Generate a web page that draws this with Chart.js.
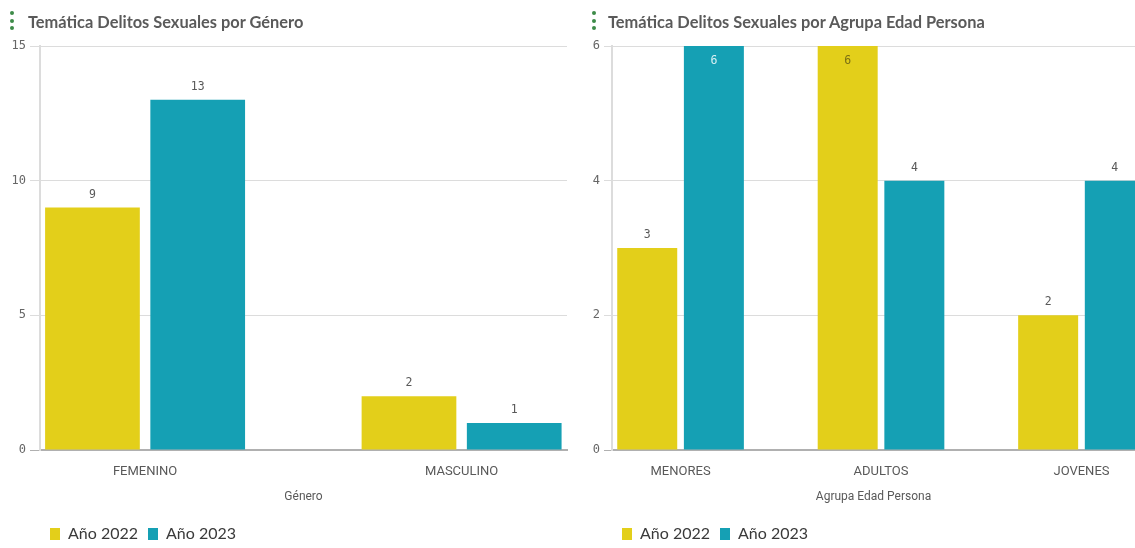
<!DOCTYPE html>
<html>
<head>
<meta charset="utf-8">
<script src="https://cdn.jsdelivr.net/npm/chart.js@4.4.1/dist/chart.umd.min.js"></script>
<style>
  body { margin: 0; background: #fff; width: 1135px; height: 548px; overflow: hidden; position: relative; }
  .panel { position: absolute; top: 0; height: 548px; }
  .title { position: absolute; top: 12px; font: bold 16.4px Lato, sans-serif; color: #5a5a5a; white-space: nowrap; }
  .dots { position: absolute; top: 11px; width: 4px; }
  .dots i { display: block; width: 4px; height: 4px; border-radius: 50%; background: #3d8b48; margin-bottom: 3.5px; }
</style>
</head>
<body>
<div class="panel" style="left:0;width:570px"><canvas id="generoChart"></canvas></div>
<div class="panel" style="left:570px;width:565px"><canvas id="edadChart"></canvas></div>
<div class="dots" style="left:10px"><i></i><i></i><i></i></div>
<div class="title" style="left:28px">Temática Delitos Sexuales por Género</div>
<div class="dots" style="left:592px"><i></i><i></i><i></i></div>
<div class="title" style="left:608px">Temática Delitos Sexuales por Agrupa Edad Persona</div>
<script>
// data
const generoLabels = ['FEMENINO', 'MASCULINO'];
const genero2022 = [9, 2];
const genero2023 = [13, 1];

const edadLabels = ['MENORES', 'ADULTOS', 'JOVENES'];
const edad2022 = [3, 6, 2];
const edad2023 = [6, 4, 4];

const seriesNames = ['Año 2022', 'Año 2023'];
const yellow = '#E3CF1A';
const teal = '#15A0B4';

const monoFont = '"DejaVu Sans Mono", monospace';
const narrowFont = '"Liberation Sans Narrow", "Roboto", sans-serif';

// value labels above bars (inside when the bar hits the top)
const valueLabels = {
  id: 'valueLabels',
  afterDatasetsDraw(chart) {
    const ctx = chart.ctx;
    const area = chart.chartArea;
    ctx.save();
    ctx.font = '11.5px ' + monoFont;
    ctx.textAlign = 'center';
    chart.data.datasets.forEach((ds, i) => {
      chart.getDatasetMeta(i).data.forEach((bar, j) => {
        if (bar.x > area.right) return;
        const v = ds.data[j];
        if (bar.y - 20 < area.top) {
          ctx.fillStyle = ds.insideColor;
          ctx.textBaseline = 'top';
          ctx.fillText(v, bar.x, bar.y + 9);
        } else {
          ctx.fillStyle = '#595959';
          ctx.textBaseline = 'alphabetic';
          ctx.fillText(v, bar.x, bar.y - 10);
        }
      });
    });
    ctx.restore();
  }
};

function groupedChart(canvasId, cats, a, b, opts) {
  return new Chart(document.getElementById(canvasId), {
    type: 'bar',
    data: {
      labels: cats.map((_, i) => i),
      datasets: [
        { label: seriesNames[0], data: a, backgroundColor: yellow, insideColor: '#7a6f14',
          categoryPercentage: 0.665, barPercentage: 0.9 },
        { label: seriesNames[1], data: b, backgroundColor: teal, insideColor: '#d8f0f3',
          categoryPercentage: 0.665, barPercentage: 0.9 },
      ],
    },
    options: {
      responsive: true,
      maintainAspectRatio: false,
      animation: false,
      layout: { padding: { top: 46, left: 0, right: opts.padRight, bottom: -4 } },
      plugins: {
        tooltip: { enabled: false },
        legend: {
          position: 'bottom',
          align: 'start',
          fullSize: false,
          labels: {
            boxWidth: 10, boxHeight: 12, padding: 10, color: '#3a3a3a',
            font: { family: 'Lato', size: 16 },
          },
        },
      },
      scales: {
        x: {
          type: 'linear',
          offset: false,
          min: opts.xMin,
          max: opts.xMax,
          afterBuildTicks: (s) => { s.ticks = cats.map((_, i) => ({ value: i })); },
          afterFit: (s) => { s.height = 66; },
          grid: { display: false, drawTicks: false },
          border: { color: '#b0b0b0', width: 2 },
          ticks: {
            padding: 14, color: '#595959', font: { family: narrowFont, size: 13 },
            callback: (v) => cats[v],
          },
          title: {
            display: true, text: opts.xTitle, color: '#595959',
            font: { family: narrowFont, size: 12 }, padding: { top: 4, bottom: 12 },
          },
        },
        y: {
          min: 0,
          max: opts.yMax,
          afterFit: (s) => { s.width = opts.yWidth; },
          ticks: { stepSize: opts.yStep, padding: 4, color: '#666', font: { family: monoFont, size: 12 } },
          grid: {
            color: (c) => (c.tick && c.tick.value === 0 ? '#b0b0b0' : '#dcdcdc'),
            tickLength: opts.tickLen,
          },
          border: { color: '#dcdcdc', width: 2 },
        },
      },
    },
    plugins: [valueLabels],
  });
}

groupedChart('generoChart', generoLabels, genero2022, genero2023, {
  padRight: 3, yWidth: 40, tickLen: 10,
  xMin: -0.332, xMax: 1.333, yMax: 15, yStep: 5, xTitle: 'Género',
});
groupedChart('edadChart', edadLabels, edad2022, edad2023, {
  padRight: 0, yWidth: 42, tickLen: 8,
  xMin: -0.342, xMax: 2.267, yMax: 6, yStep: 2, xTitle: 'Agrupa Edad Persona',
});
</script>
</body>
</html>
